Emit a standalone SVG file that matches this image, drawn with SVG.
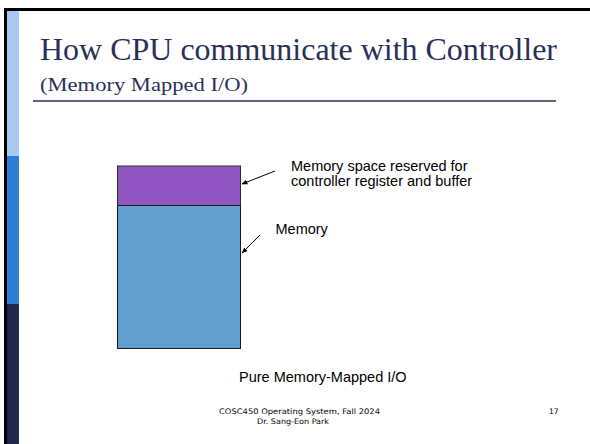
<svg xmlns="http://www.w3.org/2000/svg" width="590" height="444" viewBox="0 0 590 444">
<defs>
<style>
.title{font-family:"Liberation Serif",serif;fill:#2a2f57}
.lbl{font-family:"Liberation Sans",Arial,sans-serif;font-size:14.5px;fill:#000}
.foot{font-family:"DejaVu Sans",Verdana,sans-serif;font-size:7.6px;fill:#000}
.conn{stroke:#000;stroke-width:1;fill:none;marker-end:url(#ah)}
</style>
<marker id="ah" viewBox="0 0 10 10" refX="9" refY="5" markerWidth="6" markerHeight="6" orient="auto" markerUnits="userSpaceOnUse">
<path d="M0,1 L10,5 L0,9 z" fill="#000"/>
</marker>
</defs>
<rect width="590" height="444" fill="#fff"/>
<g id="frame">
<rect x="4" y="8" width="586" height="3" fill="#000"/>
<rect x="4" y="8" width="3" height="436" fill="#000"/>
<rect x="7" y="11" width="12" height="145" fill="#a9c9f5"/>
<rect x="7" y="156" width="12" height="148" fill="#2a7fd6"/>
<rect x="7" y="304" width="12" height="140" fill="#232852"/>
</g>
<g id="title">
<text class="title" x="40" y="60" font-size="32" textLength="517" lengthAdjust="spacingAndGlyphs">How CPU communicate with Controller</text>
<text class="title" x="40" y="91" font-size="19.5" textLength="208" lengthAdjust="spacingAndGlyphs">(Memory Mapped I/O)</text>
<line x1="33" y1="101" x2="556" y2="101" stroke="#2a2f57" stroke-width="1.5"/>
</g>
<g id="reserved">
<rect x="117.5" y="166" width="123" height="39.5" fill="#9254c0" stroke="#2a2a3a" stroke-width="1"/>
</g>
<g id="memory">
<rect x="117.5" y="205.5" width="123" height="143" fill="#609ecf" stroke="#1a1a1a" stroke-width="1"/>
</g>
<g id="connectors">
<line class="conn" x1="275" y1="171" x2="242" y2="184"/>
<line class="conn" x1="260" y1="235" x2="242" y2="253"/>
</g>
<g id="labels">
<text class="lbl" x="291" y="171">Memory space reserved for</text>
<text class="lbl" x="291" y="185.5">controller register and buffer</text>
<text class="lbl" x="275.5" y="233.5">Memory</text>
<text class="lbl" x="239" y="382">Pure Memory-Mapped I/O</text>
</g>
<g id="footer">
<text class="foot" x="219" y="414" textLength="161" lengthAdjust="spacingAndGlyphs">COSC450 Operating System, Fall 2024</text>
<text class="foot" x="257" y="424" textLength="72" lengthAdjust="spacingAndGlyphs">Dr. Sang-Eon Park</text>
<text class="foot" x="549" y="414">17</text>
</g>
</svg>
